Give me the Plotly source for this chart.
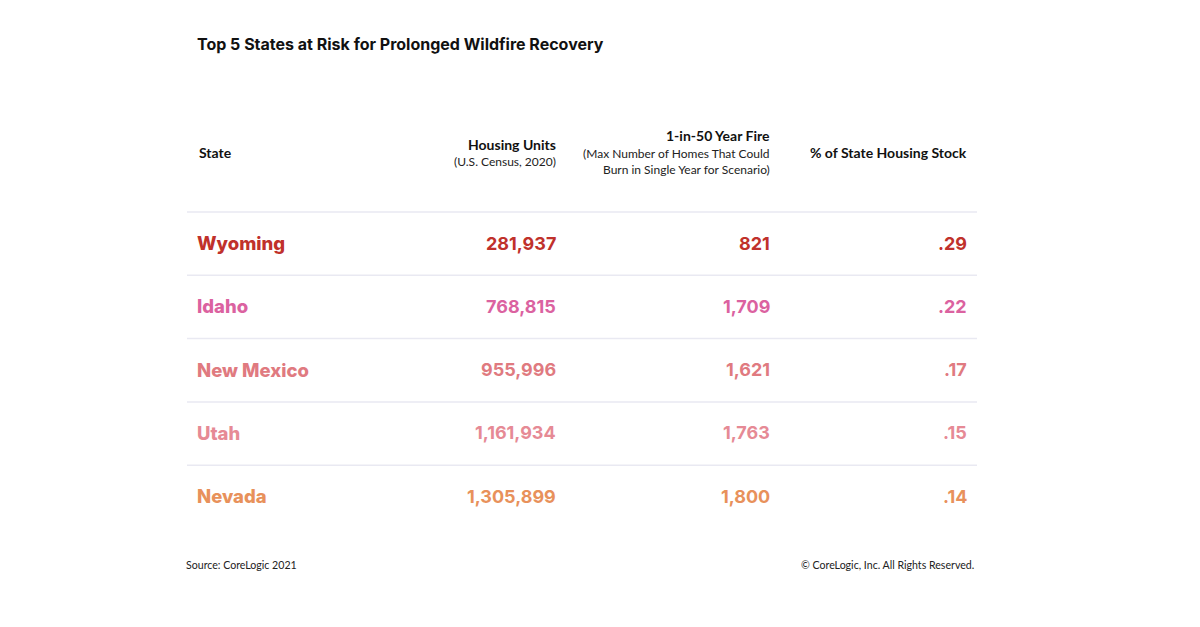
import plotly.graph_objects as go

# ---- data ----
states = ["Wyoming", "Idaho", "New Mexico", "Utah", "Nevada"]
housing_units = [281937, 768815, 955996, 1161934, 1305899]
fire_homes = [821, 1709, 1621, 1763, 1800]
pct_stock = [0.29, 0.22, 0.17, 0.15, 0.14]
row_colors = ["#C0312B", "#DB62A0", "#E07A80", "#E68A95", "#E8915B"]

title = "Top 5 States at Risk for Prolonged Wildfire Recovery"
source = "Source: CoreLogic 2021"
copyright_txt = "© CoreLogic, Inc. All Rights Reserved."

# ---- layout constants (page-pixel axis units) ----
PAGE_W, PAGE_H = 1200, 627
OFF = 8  # default body margin of the html page
col_state_x = 197
col_units_x = 556
col_fire_x = 770
col_pct_x = 967
row0_y = 243
row_step = 63.3
line_x0, line_x1 = 187, 977
line0_y = 212

TITLE_FONT = "Inter"
ROW_FONT = "Inter"
HDR_FONT = "Lato"

fig = go.Figure()
fig.add_trace(go.Scatter(x=[OFF, PAGE_W - OFF], y=[OFF, PAGE_H - OFF], mode="markers",
                         marker=dict(opacity=0), hoverinfo="skip", showlegend=False))

ann = []

def add_text(x, y, text, size, color="#111111", anchor="left", family=HDR_FONT, weight=400):
    ann.append(dict(x=x, y=y, xref="x", yref="y", text=text, showarrow=False,
                    xanchor=anchor, yanchor="middle",
                    font=dict(family=family, size=size, color=color, weight=weight)))

# title
add_text(col_state_x - 2, 44, title, 16, "#111111", "left", TITLE_FONT, 700)

# header
add_text(col_state_x, 152, "State", 14, "#111111", "left", HDR_FONT, 700)
add_text(col_units_x + 2, 144, "Housing Units", 14, "#111111", "right", HDR_FONT, 700)
add_text(col_units_x + 2, 161, "(U.S. Census, 2020)", 12, "#222222", "right", HDR_FONT, 400)
add_text(col_fire_x + 2, 135, "1-in-50 Year Fire", 14, "#111111", "right", HDR_FONT, 700)
add_text(col_fire_x + 2, 153, "(Max Number of Homes That Could", 12, "#222222", "right", HDR_FONT, 400)
add_text(col_fire_x + 2, 169, "Burn in Single Year for Scenario)", 12, "#222222", "right", HDR_FONT, 400)
add_text(col_pct_x + 2, 152, "% of State Housing Stock", 14, "#111111", "right", HDR_FONT, 700)

# rows
shapes = []
for i, (st, hu, fh, pc, c) in enumerate(zip(states, housing_units, fire_homes, pct_stock, row_colors)):
    y = row0_y + i * row_step
    add_text(col_state_x - 2, y, st, 18.5, c, "left", ROW_FONT, 800)
    add_text(col_units_x + 2, y, f"{hu:,}", 18, c, "right", ROW_FONT, 700)
    add_text(col_fire_x + 2, y, f"{fh:,}", 18, c, "right", ROW_FONT, 700)
    add_text(col_pct_x + 2, y, f"{pc:.2f}".lstrip("0"), 18, c, "right", ROW_FONT, 700)
    ly = line0_y + i * row_step
    shapes.append(dict(type="line", xref="x", yref="y", x0=line_x0, x1=line_x1, y0=ly, y1=ly,
                       line=dict(color="#E9E9F2", width=1.5)))

# footer
add_text(184, 565, source, 10.6, "#222222", "left", HDR_FONT, 400)
add_text(976, 565, copyright_txt, 10.6, "#222222", "right", HDR_FONT, 400)

fig.update_layout(
    width=PAGE_W - 2 * OFF, height=PAGE_H - 2 * OFF,
    margin=dict(l=0, r=0, t=0, b=0),
    paper_bgcolor="white", plot_bgcolor="white",
    xaxis=dict(range=[OFF, PAGE_W - OFF], visible=False, fixedrange=True),
    yaxis=dict(range=[PAGE_H - OFF, OFF], visible=False, fixedrange=True),
    annotations=ann, shapes=shapes, showlegend=False,
)

fig.write_html("out.html", config={"displayModeBar": False})
